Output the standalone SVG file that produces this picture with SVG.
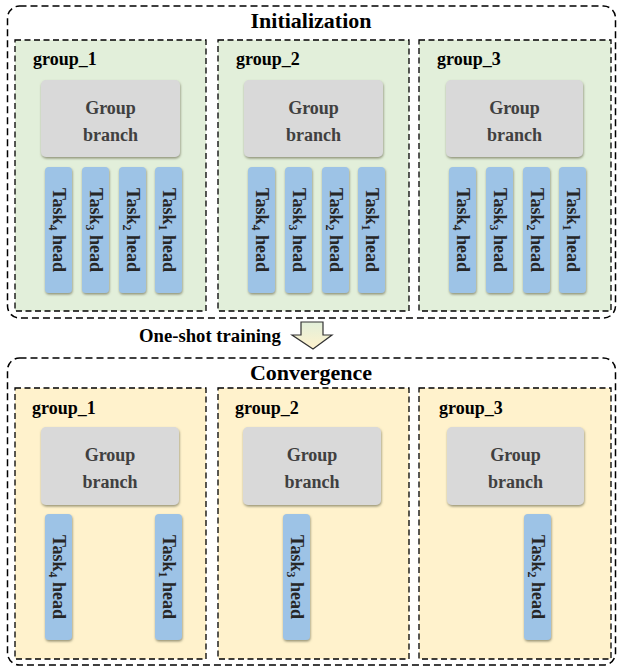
<svg xmlns="http://www.w3.org/2000/svg" width="618" height="668" viewBox="0 0 618 668">
<defs>
<filter id="sh" x="-20%" y="-20%" width="140%" height="140%">
<feDropShadow dx="0.5" dy="1.5" stdDeviation="0.8" flood-color="#6b6b50" flood-opacity="0.7"/>
</filter>
<linearGradient id="ag" x1="0" y1="0" x2="0" y2="1">
<stop offset="0" stop-color="#e2efda"/>
<stop offset="1" stop-color="#fff2cc"/>
</linearGradient>
<style>
.outer{fill:#ffffff;stroke:#000;stroke-width:1.5;stroke-dasharray:7 4}
.gg{fill:#e2efda;stroke:#000;stroke-width:1.3;stroke-dasharray:6 3.5}
.gy{fill:#fff2cc;stroke:#000;stroke-width:1.3;stroke-dasharray:6 3.5}
.br{fill:#d9d9d9;filter:url(#sh)}
.tk{fill:#9dc3e6;filter:url(#sh)}
text{font-family:"Liberation Serif","Times New Roman",serif;font-weight:bold}
.title{font-size:22px;fill:#000;text-anchor:middle}
.glab{font-size:18px;fill:#000}
.brt{font-size:18px;fill:#404040;text-anchor:middle}
.tkt{font-size:18px;fill:#262626;text-anchor:middle}
.sub{font-size:12px}
</style>
</defs>

<!-- Initialization -->
<g id="init">
<rect class="outer" x="7.5" y="6" width="608" height="312" rx="12"/>
<text class="title" x="311" y="28">Initialization</text>
</g>

<g id="init_group_1">
<rect class="gg" x="15" y="40" width="191" height="271"/>
<text class="glab" x="33" y="65">group_1</text>
<rect class="br" x="41" y="80" width="139" height="77" rx="5"/>
<text class="brt" x="110.5" y="114">Group</text>
<text class="brt" x="110.5" y="141">branch</text>
<rect class="tk" x="45" y="167" width="27" height="126" rx="4"/>
<rect class="tk" x="82" y="167" width="27" height="126" rx="4"/>
<rect class="tk" x="119" y="167" width="27" height="126" rx="4"/>
<rect class="tk" x="155" y="167" width="27" height="126" rx="4"/>
<text class="tkt" transform="translate(58.5,230) rotate(90)" y="6">Task<tspan class="sub" dy="4">4</tspan><tspan dy="-4"> head</tspan></text>
<text class="tkt" transform="translate(95.5,230) rotate(90)" y="6">Task<tspan class="sub" dy="4">3</tspan><tspan dy="-4"> head</tspan></text>
<text class="tkt" transform="translate(132.5,230) rotate(90)" y="6">Task<tspan class="sub" dy="4">2</tspan><tspan dy="-4"> head</tspan></text>
<text class="tkt" transform="translate(168.5,230) rotate(90)" y="6">Task<tspan class="sub" dy="4">1</tspan><tspan dy="-4"> head</tspan></text>
</g>

<g id="init_group_2">
<rect class="gg" x="218" y="40" width="191" height="271"/>
<text class="glab" x="236" y="65">group_2</text>
<rect class="br" x="244" y="80" width="139" height="77" rx="5"/>
<text class="brt" x="313.5" y="114">Group</text>
<text class="brt" x="313.5" y="141">branch</text>
<rect class="tk" x="248" y="167" width="27" height="126" rx="4"/>
<rect class="tk" x="285" y="167" width="27" height="126" rx="4"/>
<rect class="tk" x="322" y="167" width="27" height="126" rx="4"/>
<rect class="tk" x="358" y="167" width="27" height="126" rx="4"/>
<text class="tkt" transform="translate(261.5,230) rotate(90)" y="6">Task<tspan class="sub" dy="4">4</tspan><tspan dy="-4"> head</tspan></text>
<text class="tkt" transform="translate(298.5,230) rotate(90)" y="6">Task<tspan class="sub" dy="4">3</tspan><tspan dy="-4"> head</tspan></text>
<text class="tkt" transform="translate(335.5,230) rotate(90)" y="6">Task<tspan class="sub" dy="4">2</tspan><tspan dy="-4"> head</tspan></text>
<text class="tkt" transform="translate(371.5,230) rotate(90)" y="6">Task<tspan class="sub" dy="4">1</tspan><tspan dy="-4"> head</tspan></text>
</g>

<g id="init_group_3">
<rect class="gg" x="419" y="40" width="192" height="271"/>
<text class="glab" x="437" y="65">group_3</text>
<rect class="br" x="446" y="80" width="137" height="77" rx="5"/>
<text class="brt" x="514.5" y="114">Group</text>
<text class="brt" x="514.5" y="141">branch</text>
<rect class="tk" x="449" y="167" width="27" height="126" rx="4"/>
<rect class="tk" x="486" y="167" width="27" height="126" rx="4"/>
<rect class="tk" x="523" y="167" width="27" height="126" rx="4"/>
<rect class="tk" x="559" y="167" width="27" height="126" rx="4"/>
<text class="tkt" transform="translate(462.5,230) rotate(90)" y="6">Task<tspan class="sub" dy="4">4</tspan><tspan dy="-4"> head</tspan></text>
<text class="tkt" transform="translate(499.5,230) rotate(90)" y="6">Task<tspan class="sub" dy="4">3</tspan><tspan dy="-4"> head</tspan></text>
<text class="tkt" transform="translate(536.5,230) rotate(90)" y="6">Task<tspan class="sub" dy="4">2</tspan><tspan dy="-4"> head</tspan></text>
<text class="tkt" transform="translate(572.5,230) rotate(90)" y="6">Task<tspan class="sub" dy="4">1</tspan><tspan dy="-4"> head</tspan></text>
</g>

<!-- Connector -->
<g id="connectors">
<text class="glab" x="139" y="342" style="font-size:18.7px">One-shot training</text>
<path d="M301,322 L323,322 L323,335 L332,335 L313,349 L292,335 L301,335 Z" fill="url(#ag)" stroke="#333" stroke-width="1.2" stroke-linejoin="miter"/>
</g>

<!-- Convergence -->
<g id="conv">
<rect class="outer" x="7.5" y="358" width="608" height="307" rx="12"/>
<text class="title" x="311" y="380">Convergence</text>
</g>

<g id="conv_group_1">
<rect class="gy" x="15" y="388" width="191" height="271"/>
<text class="glab" x="32" y="414">group_1</text>
<rect class="br" x="41" y="427" width="138" height="78" rx="5"/>
<text class="brt" x="110" y="461">Group</text>
<text class="brt" x="110" y="488">branch</text>
<rect class="tk" x="45" y="514" width="27" height="126" rx="4"/>
<rect class="tk" x="155" y="514" width="27" height="126" rx="4"/>
<text class="tkt" transform="translate(58.5,577) rotate(90)" y="6">Task<tspan class="sub" dy="4">4</tspan><tspan dy="-4"> head</tspan></text>
<text class="tkt" transform="translate(168.5,577) rotate(90)" y="6">Task<tspan class="sub" dy="4">1</tspan><tspan dy="-4"> head</tspan></text>
</g>

<g id="conv_group_2">
<rect class="gy" x="218" y="388" width="191" height="271"/>
<text class="glab" x="235" y="414">group_2</text>
<rect class="br" x="243" y="427" width="138" height="78" rx="5"/>
<text class="brt" x="312" y="461">Group</text>
<text class="brt" x="312" y="488">branch</text>
<rect class="tk" x="283" y="514" width="27" height="126" rx="4"/>
<text class="tkt" transform="translate(296.5,577) rotate(90)" y="6">Task<tspan class="sub" dy="4">3</tspan><tspan dy="-4"> head</tspan></text>
</g>

<g id="conv_group_3">
<rect class="gy" x="419" y="388" width="192" height="271"/>
<text class="glab" x="439" y="414">group_3</text>
<rect class="br" x="447" y="427" width="137" height="78" rx="5"/>
<text class="brt" x="515.5" y="461">Group</text>
<text class="brt" x="515.5" y="488">branch</text>
<rect class="tk" x="524" y="514" width="27" height="126" rx="4"/>
<text class="tkt" transform="translate(537.5,577) rotate(90)" y="6">Task<tspan class="sub" dy="4">2</tspan><tspan dy="-4"> head</tspan></text>
</g>
</svg>
